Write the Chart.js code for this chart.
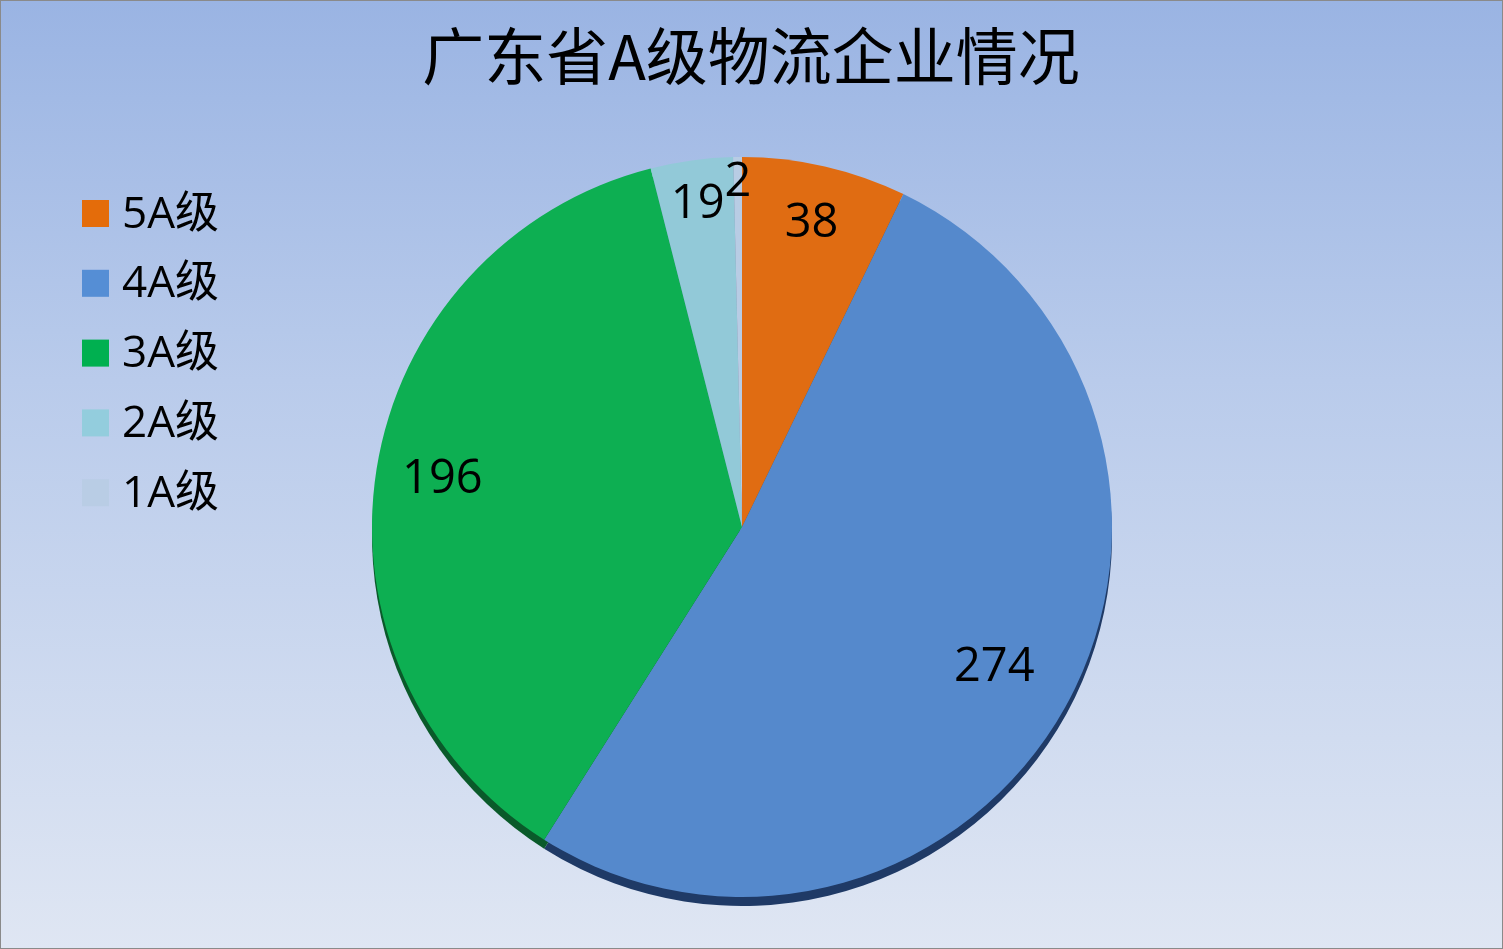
<!DOCTYPE html>
<html>
<head>
<meta charset="utf-8">
<script src="https://cdn.jsdelivr.net/npm/chart.js@4/dist/chart.umd.min.js"></script>
<style>
  html, body { margin: 0; padding: 0; overflow: hidden; }
  #wrap {
    width: 1503px; height: 949px; box-sizing: border-box;
    border: 1px solid #8a8a8a;
    background: linear-gradient(to bottom, #9ab4e3 0%, #b9cbeb 40%, #dfe6f3 100%);
  }
  canvas { display: block; }
</style>
</head>
<body>
<div id="wrap"><canvas id="pieChart" width="1501" height="947"></canvas></div>
<script>
// Data
const categories = ['5A级', '4A级', '3A级', '2A级', '1A级'];
const counts = [38, 274, 196, 19, 2];
const sliceColors = ['#e06c12', '#5589cc', '#0daf52', '#92c9d8', '#b8cce4'];
const legendColors = ['#e46c0a', '#558ed5', '#00b050', '#93cddd', '#b9cde5'];
const edgeColors = ['#8a4208', '#1f3a66', '#0a5a2a', '#4d7f8c', '#6d7f99'];
const chartTitle = '广东省A级物流企业情况';

// label distance from centre, as a share of the radius
const labelRadius = [0.84, 0.78, 0.82, 0.88, 0.93];

// 3D edge under the pie
const pieEdge = {
    id: 'pieEdge',
    beforeDatasetsDraw(chart) {
        const ctx = chart.ctx;
        const arcs = chart.getDatasetMeta(0).data;
        ctx.save();
        arcs.forEach((arc, i) => {
            ctx.beginPath();
            ctx.moveTo(arc.x, arc.y + 9);
            ctx.arc(arc.x, arc.y + 9, arc.outerRadius, arc.startAngle, arc.endAngle);
            ctx.closePath();
            ctx.fillStyle = edgeColors[i];
            ctx.fill();
        });
        ctx.restore();
    }
};

// Title, legend and value labels
const extras = {
    id: 'extras',
    afterDraw(chart) {
        const ctx = chart.ctx;
        ctx.save();

        ctx.fillStyle = '#000';
        ctx.textAlign = 'center';
        ctx.textBaseline = 'middle';
        ctx.font = '62px "Noto Sans CJK SC"';
        ctx.fillText(chartTitle, 750, 55);

        ctx.textAlign = 'left';
        ctx.font = '44px "Open Sans", "Noto Sans CJK SC"';
        categories.forEach((name, i) => {
            const y = 212 + i * 69.8;
            ctx.fillStyle = legendColors[i];
            ctx.fillRect(81, y - 13, 27, 27);
            ctx.fillStyle = '#000';
            ctx.fillText(name, 121, y + 2);
        });

        ctx.textAlign = 'center';
        ctx.font = '47px "Open Sans"';
        const arcs = chart.getDatasetMeta(0).data;
        arcs.forEach((arc, i) => {
            const mid = (arc.startAngle + arc.endAngle) / 2;
            const r = arc.outerRadius * labelRadius[i];
            ctx.fillText(String(counts[i]), arc.x + Math.cos(mid) * r, arc.y + Math.sin(mid) * r);
        });
        ctx.restore();
    }
};

const pieChart = new Chart(document.getElementById('pieChart'), {
    type: 'pie',
    data: {
        labels: categories,
        datasets: [{
            data: counts,
            backgroundColor: sliceColors,
            borderWidth: 0
        }]
    },
    options: {
        responsive: false,
        animation: false,
        layout: {
            padding: { left: 371, right: 390, top: 156, bottom: 51 }
        },
        plugins: {
            legend: { display: false },
            title: { display: false },
            tooltip: { enabled: false }
        }
    },
    plugins: [pieEdge, extras]
});
</script>
</body>
</html>
